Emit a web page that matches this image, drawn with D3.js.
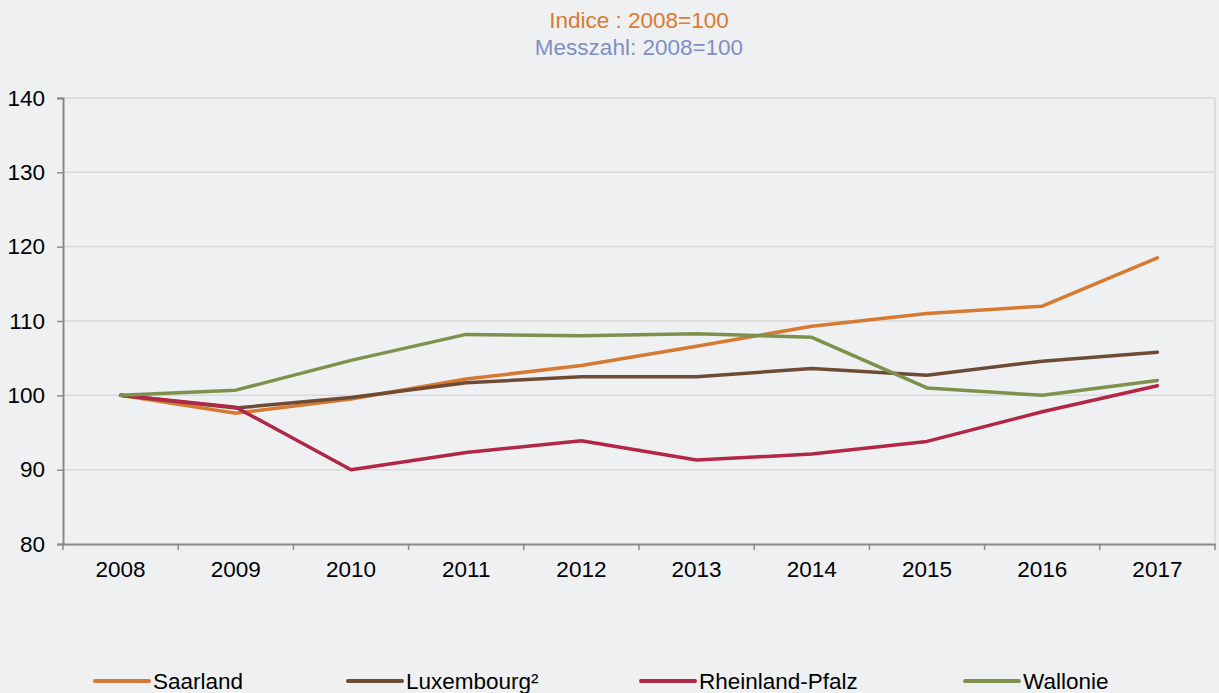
<!DOCTYPE html>
<html>
<head>
<meta charset="utf-8">
<script src="https://cdn.jsdelivr.net/npm/d3@7"></script>
<style>
  body { margin: 0; background: #eff0f2; }
  svg { display: block; font-family: "Liberation Sans", Arial, sans-serif; }
</style>
</head>
<body>
<svg id="chart" width="1219" height="693"></svg>
<script>
  // ---- data ----
  const years = ["2008", "2009", "2010", "2011", "2012", "2013", "2014", "2015", "2016", "2017"];
  const saarland = [100, 97.6, 99.5, 102.2, 104.0, 106.6, 109.3, 111.0, 112.0, 118.5];
  const luxembourg = [100, 98.3, 99.7, 101.7, 102.5, 102.5, 103.6, 102.7, 104.6, 105.8];
  const rheinland = [100, 98.4, 90.0, 92.3, 93.9, 91.3, 92.1, 93.8, 97.8, 101.3];
  const wallonie = [100, 100.7, 104.7, 108.2, 108.0, 108.3, 107.8, 101.0, 100.0, 102.0];
  const yTicks = [80, 90, 100, 110, 120, 130, 140];

  const series = [
    { name: "Saarland", values: saarland, color: "#d67a31" },
    { name: "Luxembourg²", values: luxembourg, color: "#6d4b34" },
    { name: "Rheinland-Pfalz", values: rheinland, color: "#b22646" },
    { name: "Wallonie", values: wallonie, color: "#7d914d" }
  ];

  const svg = d3.select("#chart");
  const margin = { top: 98, right: 4, bottom: 149, left: 63 };
  const w = 1219 - margin.left - margin.right;
  const h = 693 - margin.top - margin.bottom;
  const fs = 22.5;

  const g = svg.append("g").attr("transform", `translate(${margin.left},${margin.top})`);

  const x = d3.scaleBand().domain(years).range([0, w]);
  const y = d3.scaleLinear().domain([80, 140]).range([h, 0]);

  // Title
  svg.append("text").attr("x", margin.left + w / 2).attr("y", 28)
    .attr("text-anchor", "middle").attr("fill", "#d97b33").attr("font-size", fs)
    .text("Indice : 2008=100");
  svg.append("text").attr("x", margin.left + w / 2).attr("y", 55)
    .attr("text-anchor", "middle").attr("fill", "#7f8fc4").attr("font-size", fs)
    .text("Messzahl: 2008=100");

  // Grid lines
  g.append("g")
    .selectAll("line")
    .data(yTicks.filter(d => d !== 80))
    .enter().append("line")
    .attr("x1", 0).attr("x2", w)
    .attr("y1", d => y(d)).attr("y2", d => y(d))
    .attr("stroke", "#d9d9d9").attr("stroke-width", 1.5);

  // right border
  g.append("line").attr("x1", w).attr("x2", w).attr("y1", 0).attr("y2", h)
    .attr("stroke", "#d9d9d9").attr("stroke-width", 1.5);

  // Y axis
  const yAxis = g.append("g")
    .call(d3.axisLeft(y).tickValues(yTicks).tickSize(6).tickPadding(12));
  yAxis.selectAll("text").attr("fill", "#000").attr("font-size", fs)
    .attr("font-family", "Liberation Sans, Arial, sans-serif");

  // X axis
  const xAxis = g.append("g").attr("transform", `translate(0,${h})`)
    .call(d3.axisBottom(x).tickSize(0).tickPadding(17));
  xAxis.selectAll("text").attr("fill", "#000").attr("font-size", fs)
    .attr("font-family", "Liberation Sans, Arial, sans-serif");
  // band boundary ticks
  g.append("g").selectAll("line")
    .data(years.map(d => x(d)).concat([w]))
    .enter().append("line")
    .attr("x1", d => d).attr("x2", d => d)
    .attr("y1", h).attr("y2", h + 6)
    .attr("stroke", "#898989").attr("stroke-width", 1.5);

  g.selectAll(".domain").attr("stroke", "#898989").attr("stroke-width", 2);
  g.selectAll(".tick line").attr("stroke", "#898989").attr("stroke-width", 1.5);

  // Lines
  const line = d3.line()
    .x((d, i) => x(years[i]) + x.bandwidth() / 2)
    .y(d => y(d));

  g.selectAll(".series")
    .data(series)
    .enter().append("path")
    .attr("fill", "none")
    .attr("stroke", d => d.color)
    .attr("stroke-width", 3.5)
    .attr("stroke-linejoin", "round")
    .attr("stroke-linecap", "round")
    .attr("d", d => line(d.values));

  // Legend
  const legendX = [95, 348, 641, 965];
  const legend = svg.append("g").selectAll("g")
    .data(series)
    .enter().append("g")
    .attr("transform", (d, i) => `translate(${legendX[i]},681)`);
  legend.append("line")
    .attr("x1", 0).attr("x2", 54).attr("y1", 0).attr("y2", 0)
    .attr("stroke", d => d.color).attr("stroke-width", 4).attr("stroke-linecap", "round");
  legend.append("text")
    .attr("x", 58).attr("y", 8)
    .attr("font-size", fs).attr("fill", "#000")
    .text(d => d.name);
</script>
</body>
</html>
